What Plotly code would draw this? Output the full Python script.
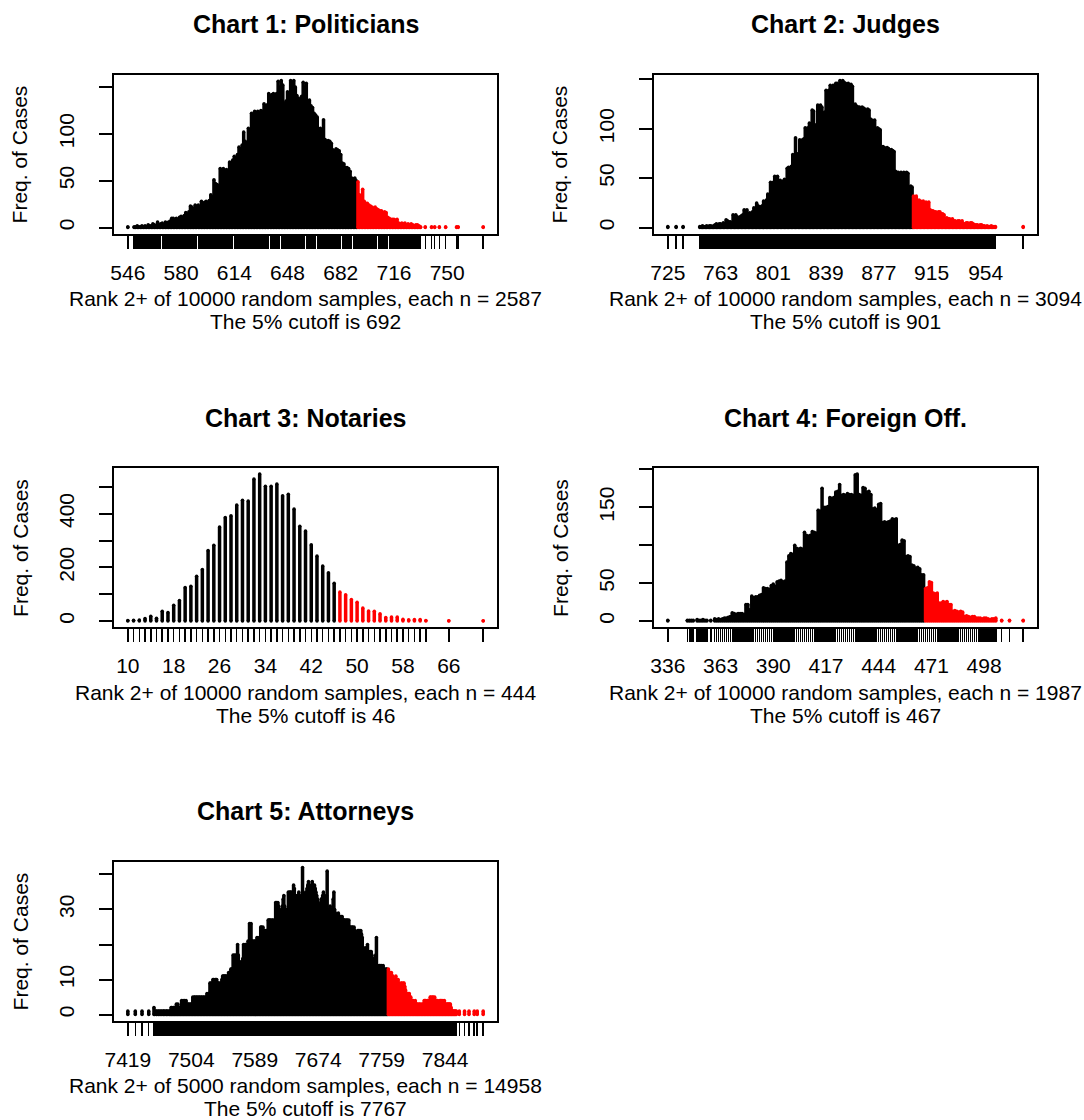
import plotly.graph_objects as go

W, H = 1084, 1120
FONT = "Liberation Sans, Arial, Helvetica, sans-serif"
LW = 3.5
FS = 21
FS_TITLE = 25

# ---------------- data (frequency of each rank value, consecutive from start) ----------------
c1_start = 546
c1_freq = [
    1, 0, 0, 0, 1, 1, 2, 1, 1, 2,
    1, 2, 1, 3, 2, 2, 4, 3, 2, 6,
    3, 4, 5, 3, 6, 5, 6, 7, 10, 10,
    9, 10, 8, 11, 12, 11, 13, 16, 14, 17,
    23, 22, 20, 24, 23, 24, 22, 28, 26, 27,
    28, 27, 29, 35, 33, 51, 47, 46, 45, 63,
    62, 63, 60, 62, 61, 70, 68, 72, 76, 74,
    78, 86, 84, 88, 102, 92, 90, 106, 104, 122,
    118, 124, 123, 124, 122, 125, 124, 132, 130, 131,
    143, 140, 142, 143, 141, 143, 156, 150, 157, 152,
    132, 135, 145, 140, 157, 155, 157, 150, 141, 138,
    132, 140, 155, 150, 154, 134, 136, 130, 128, 122,
    120, 118, 104, 106, 100, 115, 94, 92, 93, 92,
    90, 83, 82, 84, 83, 82, 78, 69, 68, 64,
    64, 63, 60, 53, 52, 53, 50, 49, 35, 34,
    41, 28, 26, 26, 24, 23, 22, 21, 22, 20,
    19, 18, 18, 16, 17, 16, 11, 10, 9, 9,
    9, 8, 9, 5, 4, 5, 4, 5, 3, 4,
    3, 4, 3, 2, 3, 3, 2, 1, 0, 0,
    1, 0, 0, 0, 1, 0, 1, 0, 0, 1,
    0, 0, 0, 1, 0, 0, 0, 0, 0, 0,
    1, 1, 0, 0, 0, 0, 0, 0, 0, 0,
    0, 0, 0, 0, 0, 0, 0, 1,
]

c2_start = 725
c2_freq = [
    1, 0, 0, 0, 0, 0, 1, 0, 0, 0,
    0, 1, 0, 0, 0, 0, 0, 0, 0, 0,
    0, 0, 0, 1, 1, 2, 1, 1, 2, 1,
    2, 2, 1, 2, 3, 4, 3, 4, 4, 3,
    5, 4, 8, 7, 6, 6, 5, 13, 12, 13,
    11, 10, 11, 12, 13, 18, 17, 18, 14, 15,
    14, 16, 20, 19, 25, 22, 21, 21, 22, 27,
    26, 28, 34, 33, 46, 44, 46, 52, 51, 52,
    47, 48, 46, 47, 49, 48, 60, 61, 58, 62,
    74, 72, 91, 73, 75, 89, 88, 89, 90, 101,
    100, 101, 106, 105, 119, 118, 104, 103, 124, 123,
    124, 122, 116, 117, 139, 138, 139, 144, 142, 144,
    143, 146, 146, 145, 149, 148, 149, 147, 146, 145,
    146, 144, 145, 143, 124, 125, 123, 122, 122, 121,
    122, 121, 120, 115, 120, 119, 110, 109, 108, 109,
    100, 101, 100, 99, 81, 82, 81, 80, 81, 80,
    78, 79, 78, 77, 57, 56, 56, 55, 56, 55,
    56, 55, 56, 55, 41, 42, 41, 32, 31, 32,
    27, 28, 27, 26, 27, 21, 26, 25, 26, 18,
    17, 17, 16, 16, 15, 16, 16, 14, 14, 13,
    9, 10, 9, 9, 8, 9, 7, 7, 6, 7,
    7, 6, 7, 4, 4, 5, 5, 4, 5, 5,
    4, 3, 3, 3, 2, 3, 3, 2, 2, 1,
    2, 1, 1, 2, 1, 1, 1, 0, 0, 0,
    0, 0, 0, 0, 0, 0, 0, 0, 0, 0,
    0, 0, 0, 0, 0, 0, 1,
]

c3_start = 10
c3_freq = [
    2, 3, 4, 10, 18, 11, 37, 32, 59, 77,
    125, 130, 167, 192, 263, 282, 350, 386, 392, 432,
    450, 447, 529, 548, 502, 502, 510, 467, 472, 417,
    353, 335, 284, 242, 205, 180, 141, 108, 98, 80,
    70, 49, 38, 37, 27, 13, 15, 15, 7, 5,
    6, 6, 2, 0, 0, 0, 1, 0, 0, 0,
    0, 0, 1,
]

c4_start = 336
c4_freq = [
    1, 0, 0, 0, 0, 0, 0, 0, 0, 0,
    1, 1, 1, 1, 0, 2, 1, 1, 2, 1,
    1, 0, 1, 0, 3, 2, 3, 2, 3, 4,
    4, 5, 6, 11, 10, 9, 10, 10, 10, 9,
    22, 22, 15, 33, 31, 32, 32, 34, 35, 44,
    43, 43, 42, 47, 49, 46, 52, 53, 54, 52,
    53, 78, 86, 89, 88, 100, 96, 95, 96, 95,
    117, 113, 112, 113, 118, 117, 116, 146, 145, 175,
    150, 150, 151, 163, 162, 163, 170, 171, 180, 166,
    167, 166, 168, 167, 167, 166, 193, 194, 167, 166,
    176, 175, 170, 171, 167, 148, 149, 147, 154, 155,
    130, 131, 130, 131, 132, 135, 134, 135, 100, 101,
    107, 106, 85, 86, 85, 74, 73, 70, 71, 69,
    61, 61, 43, 44, 52, 51, 37, 36, 37, 24,
    24, 26, 25, 26, 22, 22, 13, 14, 13, 12,
    13, 12, 6, 7, 6, 5, 6, 6, 4, 4,
    4, 3, 4, 4, 3, 2, 3, 3, 4, 0,
    0, 1, 0, 0, 0, 1, 0, 0, 0, 0,
    0, 0, 1,
]

c5_start = 7419
c5_freq = [
    1, 0, 0, 0, 0, 0, 0, 0, 0, 0,
    1, 0, 0, 0, 0, 0, 0, 0, 0, 1,
    0, 0, 0, 0, 0, 0, 0, 0, 1, 0,
    0, 0, 0, 0, 0, 2, 1, 0, 1, 1,
    0, 1, 1, 0, 1, 1, 0, 1, 1, 1,
    0, 1, 1, 1, 0, 1, 1, 1, 2, 2,
    1, 2, 2, 1, 2, 3, 1, 3, 2, 2,
    1, 2, 4, 3, 4, 2, 4, 3, 4, 3,
    2, 3, 3, 2, 3, 3, 2, 5, 4, 5,
    5, 4, 5, 5, 4, 5, 5, 4, 5, 5,
    4, 5, 5, 4, 5, 5, 6, 5, 6, 6,
    9, 9, 8, 9, 10, 10, 9, 10, 10, 10,
    9, 9, 9, 8, 9, 9, 10, 11, 11, 11,
    11, 11, 11, 10, 11, 12, 11, 12, 13, 13,
    13, 17, 16, 17, 16, 17, 16, 20, 17, 15,
    15, 15, 14, 15, 16, 20, 19, 20, 20, 19,
    20, 21, 20, 26, 25, 26, 21, 21, 20, 21,
    21, 20, 21, 22, 21, 21, 22, 21, 25, 25,
    24, 25, 24, 24, 23, 24, 24, 23, 27, 27,
    27, 27, 26, 27, 27, 26, 27, 26, 32, 32,
    31, 32, 31, 30, 29, 29, 30, 31, 33, 34,
    31, 30, 30, 29, 29, 35, 34, 35, 35, 34,
    35, 33, 37, 36, 34, 34, 33, 32, 34, 35,
    34, 33, 33, 34, 42, 35, 34, 34, 34, 35,
    36, 37, 38, 36, 35, 36, 37, 38, 37, 36,
    37, 36, 35, 34, 33, 32, 31, 31, 31, 33,
    33, 34, 35, 33, 32, 33, 34, 41, 30, 30,
    30, 31, 29, 30, 30, 33, 35, 30, 29, 28,
    28, 28, 29, 28, 27, 28, 28, 28, 27, 27,
    27, 27, 26, 27, 27, 26, 27, 25, 25, 24,
    25, 25, 24, 25, 24, 23, 22, 22, 24, 24,
    24, 23, 24, 23, 22, 19, 19, 18, 19, 19,
    19, 20, 18, 18, 17, 18, 18, 17, 16, 15,
    15, 16, 17, 22, 14, 14, 13, 14, 14, 13,
    14, 13, 14, 13, 13, 12, 13, 13, 12, 13,
    12, 11, 12, 12, 11, 11, 10, 10, 9, 11,
    10, 9, 10, 9, 8, 8, 9, 9, 8, 9,
    9, 8, 7, 6, 6, 5, 6, 6, 5, 5,
    4, 3, 4, 3, 3, 4, 3, 3, 3, 2,
    3, 3, 2, 3, 2, 3, 3, 4, 4, 4,
    3, 4, 4, 3, 4, 5, 5, 4, 5, 5,
    4, 5, 4, 4, 3, 4, 3, 3, 4, 4,
    4, 3, 4, 3, 4, 3, 2, 3, 3, 3,
    3, 3, 3, 2, 1, 1, 1, 1, 1, 1,
    1, 0, 0, 0, 1, 0, 0, 0, 0, 0,
    0, 1, 0, 0, 0, 0, 0, 1, 0, 0,
    0, 0, 0, 0, 1, 0, 0, 0, 1, 0,
    0, 0, 0, 0, 0, 0, 1,
]

titles = ["Chart 1: Politicians", "Chart 2: Judges", "Chart 3: Notaries",
          "Chart 4: Foreign Off.", "Chart 5: Attorneys"]
n_samples = [10000, 10000, 10000, 10000, 5000]
n_sizes = [2587, 3094, 444, 1987, 14958]
cutoffs = [692, 901, 46, 467, 7767]
x_labels = [
    [546, 580, 614, 648, 682, 716, 750],
    [725, 763, 801, 839, 877, 915, 954],
    [10, 18, 26, 34, 42, 50, 58, 66],
    [336, 363, 390, 417, 444, 471, 498],
    [7419, 7504, 7589, 7674, 7759, 7844],
]
y_ticks = [
    [0, 50, 100, 150],
    [0, 50, 100, 150],
    [0, 100, 200, 300, 400, 500],
    [0, 50, 100, 150, 200],
    [0, 10, 20, 30, 40],
]
y_ticktext = [
    ["0", "50", "100", ""],
    ["0", "50", "100", ""],
    ["0", "", "200", "", "400", ""],
    ["0", "50", "", "150", ""],
    ["0", "10", "", "30", ""],
]
starts = [c1_start, c2_start, c3_start, c4_start, c5_start]
freqs = [c1_freq, c2_freq, c3_freq, c4_freq, c5_freq]

# ---------------- layout geometry (pixels) ----------------
boxes = [  # left, right, top, bottom
    (105.5, 492.5, 74.5, 233.5),
    (650.0, 1037.0, 74.5, 233.5),
    (105.5, 492.5, 468.0, 627.0),
    (650.0, 1037.0, 468.0, 627.0),
    (105.5, 492.5, 861.5, 1020.5),
]

fig = go.Figure()
layout = dict(
    width=W, height=H, margin=dict(l=0, r=0, t=0, b=0),
    paper_bgcolor="white", plot_bgcolor="white",
    font=dict(family=FONT, size=FS, color="black"),
    showlegend=False,
)
annotations = []


def px_x(p):
    return p / W


def px_y(p):
    return 1 - p / H


for i in range(5):
    k = i + 1
    sfx = "" if k == 1 else str(k)
    lab_k = k + 5
    start, freq = starts[i], freqs[i]
    xs = [start + j for j in range(len(freq)) if freq[j] > 0]
    fs = [f for f in freq if f > 0]
    xmin, xmax = min(xs), max(xs)
    span = xmax - xmin
    xr = [xmin - 0.04 * span, xmax + 0.04 * span]
    fmax = max(fs)
    yr = [-0.04 * fmax, 1.04 * fmax]
    L, R, T, B = boxes[i]

    for color, sel in (("black", lambda v: v <= cutoffs[i]), ("red", lambda v: v > cutoffs[i])):
        vx = [v for v in xs if sel(v)]
        vf = [f for v, f in zip(xs, fs) if sel(v)]
        lx, ly = [], []
        for v, f in zip(vx, vf):
            lx += [v, v, None]
            ly += [0, f, None]
        fig.add_trace(go.Scatter(x=lx, y=ly, mode="lines",
                                 line=dict(color=color, width=LW),
                                 xaxis="x" + sfx, yaxis="y" + sfx,
                                 hoverinfo="skip", showlegend=False))
        fig.add_trace(go.Scatter(x=vx + vx, y=vf + [0] * len(vf), mode="markers",
                                 marker=dict(color=color, size=LW, line=dict(width=0)),
                                 xaxis="x" + sfx, yaxis="y" + sfx,
                                 hoverinfo="skip", showlegend=False))
    # invisible trace so the label axes are drawn
    fig.add_trace(go.Scatter(x=x_labels[i], y=[0] * len(x_labels[i]), mode="markers",
                             marker=dict(opacity=0, size=1),
                             xaxis="x" + str(lab_k), yaxis="y" + str(lab_k),
                             hoverinfo="skip", showlegend=False))

    dom_x = [px_x(L), px_x(R)]
    dom_y = [px_y(B), px_y(T)]
    # main axes: box, rug ticks, y ticks
    layout["xaxis" + sfx] = dict(
        domain=dom_x, range=xr, anchor="y" + sfx,
        tickvals=xs, showticklabels=False,
        ticks="outside", ticklen=13, tickwidth=1.5, tickcolor="black",
        showline=True, mirror=True, linecolor="black", linewidth=2,
        showgrid=False, zeroline=False, fixedrange=True,
    )
    layout["yaxis" + sfx] = dict(
        domain=dom_y, range=yr, anchor="x" + sfx,
        tickvals=y_ticks[i], showticklabels=False,
        ticks="outside", ticklen=13, tickwidth=2, tickcolor="black",
        showline=True, mirror=True, linecolor="black", linewidth=2,
        showgrid=False, zeroline=False, fixedrange=True,
    )
    # label axes (no visible ticks)
    layout["xaxis" + str(lab_k)] = dict(
        domain=dom_x, range=xr, anchor="y" + sfx, overlaying="x" + sfx,
        tickvals=x_labels[i], ticktext=[str(v) for v in x_labels[i]],
        ticks="outside", ticklen=20, tickcolor="rgba(0,0,0,0)",
        showline=False, showgrid=False, zeroline=False,
        tickfont=dict(family=FONT, size=FS, color="black"), fixedrange=True,
    )
    layout["yaxis" + str(lab_k)] = dict(
        domain=dom_y, range=yr, anchor="x" + sfx, overlaying="y" + sfx, side="left",
        tickvals=y_ticks[i], ticktext=y_ticktext[i], tickangle=-90,
        ticks="outside", ticklen=30, tickcolor="rgba(0,0,0,0)",
        showline=False, showgrid=False, zeroline=False, fixedrange=True,
        tickfont=dict(family=FONT, size=FS, color="black"),
    )

    cx = (L + R) / 2
    annotations.append(dict(text="<b>%s</b>" % titles[i], x=px_x(cx), y=px_y(T - 50.5),
                            xref="paper", yref="paper", showarrow=False,
                            xanchor="center", yanchor="middle",
                            font=dict(family=FONT, size=FS_TITLE, color="black")))
    annotations.append(dict(text="Rank 2+ of %d random samples, each n = %d" % (n_samples[i], n_sizes[i]),
                            x=px_x(cx), y=px_y(B + 65), xref="paper", yref="paper",
                            showarrow=False, xanchor="center", yanchor="middle",
                            font=dict(family=FONT, size=FS, color="black")))
    annotations.append(dict(text="The 5%% cutoff is %d" % cutoffs[i],
                            x=px_x(cx), y=px_y(B + 88), xref="paper", yref="paper",
                            showarrow=False, xanchor="center", yanchor="middle",
                            font=dict(family=FONT, size=FS, color="black")))
    annotations.append(dict(text="Freq. of Cases", x=px_x(L - 94), y=px_y((T + B) / 2),
                            xref="paper", yref="paper", showarrow=False, textangle=-90,
                            xanchor="center", yanchor="middle",
                            font=dict(family=FONT, size=FS, color="black")))

layout["annotations"] = annotations
fig.update_layout(**layout)

fig.write_html("out.html", config={"displayModeBar": False, "staticPlot": True},
               post_script="document.body.style.margin='0';")
